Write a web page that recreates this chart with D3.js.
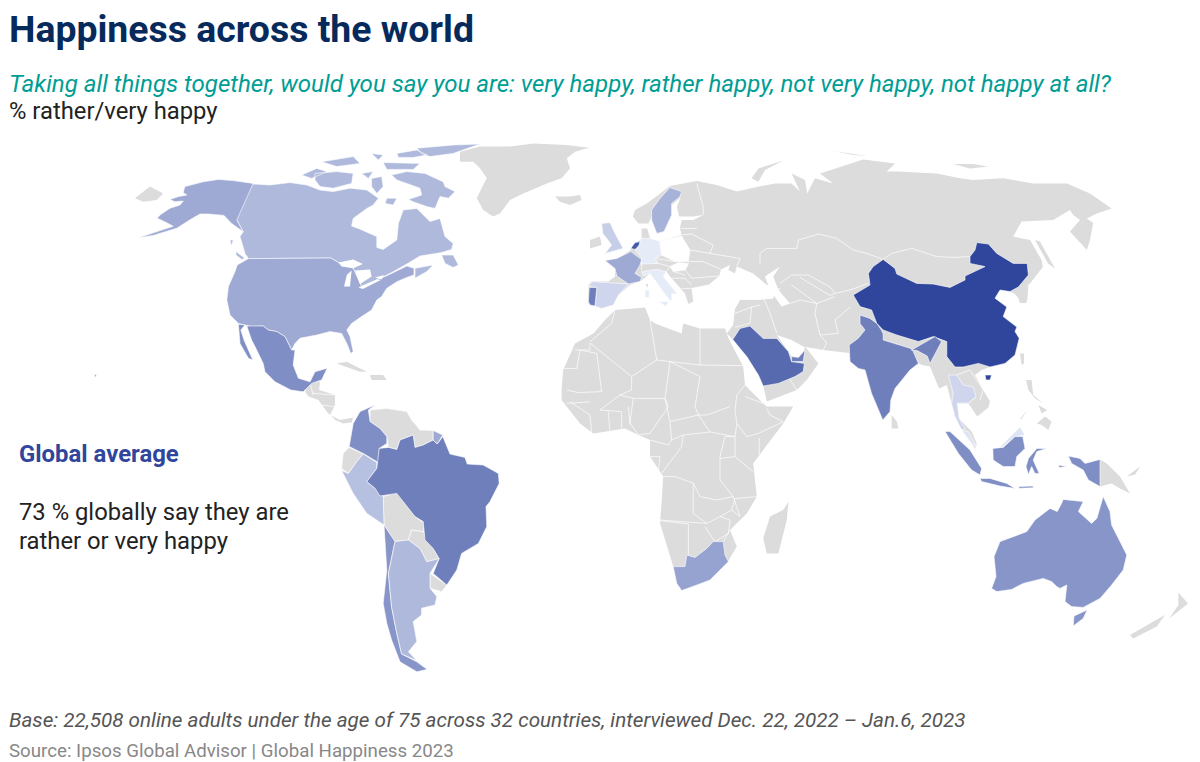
<!DOCTYPE html>
<html>
<head>
<meta charset="utf-8">
<script src="https://cdn.jsdelivr.net/npm/d3@7"></script>
<style>
 html,body{margin:0;padding:0;background:#fff;}
 svg{display:block;font-family:Roboto,sans-serif;}
</style>
</head>
<body>
<div id="container"></div>
<script>
// outlines are [lon,lat] in the flat map grid of the picture, one array per shape

const alaska=[[-86.7,67.9],[-91.7,68.6],[-95.4,68.9],[-99.2,68.3],[-103.8,67.1],[-104.2,65.6],[-103.3,65],[-105.4,64.6],[-107.5,63.9],[-106.3,63.3],[-104.2,63.5],[-105,62.5],[-107.5,61.7],[-110,60],[-110.7,59.2],[-108.8,58.3],[-106.7,57.2],[-110,56.1],[-115.4,54.3],[-111.7,54.9],[-105.8,56.7],[-102.5,58.8],[-100,60.25],[-97.9,60.25],[-94,59.9],[-92.1,57.9],[-89.2,55.8],[-90.8,58.75]];
const hawaii=[[-126.5,20.2],[-125.8,20],[-126.2,19.4]];
const usaMain=[[-87.9,49.1],[-67.3,49.25],[-65,47.9],[-61.7,46.7],[-59.6,42.1],[-55.8,43.75],[-52.9,45],[-48.3,47.25],[-46.5,46.7],[-46.5,45],[-48.3,44.4],[-50.8,43.3],[-53.3,41.7],[-54.6,39.6],[-55.8,38.75],[-57.1,36.25],[-59.6,34.6],[-62.1,32.9],[-63.3,31.25],[-62.5,29.6],[-61.7,25.9],[-62.3,25.4],[-63.3,27.9],[-64.6,30.4],[-67.5,30.85],[-70.8,30],[-75,29.2],[-76.25,27.9],[-77.1,26.25],[-78.75,29.6],[-80.8,30.85],[-82.9,31.25],[-84.2,32.25],[-87.1,32.1],[-90.4,32.9],[-92.5,35],[-93.3,38.75],[-92.9,42.1],[-91.25,45.85],[-90.7,47.5]];
const canadaMain=[[-86.7,67.75],[-82.5,67.5],[-77.5,68.1],[-73.3,67.5],[-70,66.25],[-66.7,65.85],[-62.5,66.7],[-58.3,66.25],[-55.4,64.2],[-56.7,62.5],[-58.3,61.65],[-61.7,59.15],[-62.1,57.25],[-60.4,56.65],[-55.8,54.6],[-55.8,51.9],[-54.2,51.4],[-50.8,53.75],[-50.4,57.9],[-49.2,61.25],[-45.8,61.65],[-43.75,59.6],[-42.5,58.35],[-40,59.15],[-38.75,54.6],[-36.7,52.9],[-37.1,51.4],[-39.6,50.6],[-45,49.75],[-48.3,47.75],[-52.5,45.4],[-55.8,43.75],[-59.6,42.1],[-61.7,46.7],[-65,47.9],[-67.3,49.25],[-87.9,49.1],[-88.75,50.4],[-90,54.6],[-89.2,55.8],[-90.8,58.75],[-94,59.9]];
const canadaIslands=[
 [[-92.5,53.75],[-91.7,53.75],[-92.1,52.25]],
 [[-91,50.85],[-88.75,49.2],[-89.6,48.9],[-91,50]],
 [[-46.25,46.7],[-41.7,47.5],[-43.3,45.85],[-46.25,44.2]],
 [[-39.6,50],[-36.7,50],[-35.4,47.5],[-36.7,46.9],[-38.75,47.9]],
 [[-52.1,70],[-48.3,70.85],[-43.75,70.4],[-39.2,68.3],[-38.75,67.1],[-36.25,65.85],[-37.9,64.2],[-40,64.6],[-41.25,61.65],[-43.3,62.1],[-46.7,63.3],[-47.9,63.9],[-44.6,65],[-45,66.7],[-48.3,67.9],[-50.8,68.75]],
 [[-71.25,70.4],[-65.8,70.85],[-61.7,70.4],[-62.1,67.9],[-66.7,66.7],[-70,67.1],[-71.25,68.75]],
 [[-74.6,70],[-70.8,71.65],[-68.3,70.85],[-72.1,69.15]],
 [[-59.6,70.4],[-56.7,70.85],[-57.9,69.15]],
 [[-53.3,64.2],[-50.8,64.2],[-51.7,62.5],[-53.75,62.9]],
 [[-57.1,69.15],[-54.6,69.6],[-54.2,67.1],[-55.8,65.4],[-57.1,67.1]],
 [[-50.8,75.4],[-45.8,76.25],[-43.3,75],[-46.7,74.4],[-50.4,74.4]],
 [[-45.8,76.7],[-36.7,77.5],[-30,77.75],[-36.7,75.4],[-42.5,74.6],[-44.6,75.4]],
 [[-69.6,73.3],[-61.7,74.6],[-60,72.9],[-65.8,72.1]],
 [[-57.1,75.4],[-54.2,75],[-55.4,73.75]],
 [[-54.2,73.1],[-45,72.9],[-46.7,71.4],[-53.3,71.4]]
];
const mexicoMain=[[-88.3,32.25],[-84.2,32.25],[-82.9,31.25],[-80.8,30.85],[-78.75,29.6],[-77.1,26.25],[-76.25,26.25],[-76.7,22.5],[-75.4,19.2],[-72.5,18.3],[-71.25,20.8],[-68.2,21.7],[-69.6,18.75],[-72.1,17.9],[-74.2,15.8],[-77.3,16.25],[-81.25,18.3],[-83.75,20.8],[-84.2,22.9],[-86.25,27.1],[-87.1,28.75]];
const baja=[[-90.4,32.7],[-88.75,32.5],[-89.8,31.25],[-89,28.75],[-86.8,23.75],[-87.9,24.2],[-90,27.9]];
const colombia=[[-56.25,12.5],[-57.9,11.25],[-57.5,8.35],[-55,6.65],[-53.3,4.6],[-53.3,2.9],[-55.2,1.65],[-55.2,-2.1],[-55.8,-1.65],[-59.2,0.4],[-62.7,2.1],[-61.7,7.9],[-60,10.85]];
const frenchGuiana=[[-41.7,6.1],[-39.3,5],[-40.7,2.75],[-41.7,3.75]];
const brazil=[[-55.2,1.65],[-52.9,1.9],[-50.8,1.4],[-50,3.75],[-46.7,5],[-46.25,1.9],[-44.2,2.5],[-41.7,3.75],[-40.7,2.75],[-39.3,4.6],[-37.5,0.25],[-33.75,-0.6],[-33.2,-2.25],[-29.2,-2.5],[-25.4,-4.6],[-25.2,-7.1],[-27.5,-11.65],[-28.5,-12.9],[-28.3,-17.9],[-30.4,-22.1],[-34.6,-24.6],[-35.8,-28.75],[-38.3,-32.5],[-41.7,-29.6],[-40.2,-25.9],[-41.7,-23.4],[-43.75,-21.25],[-44.2,-16.65],[-46.25,-15.4],[-50.8,-9.6],[-55,-10.25],[-56.25,-8.3],[-58.3,-6.65],[-55.8,-3.35]];
const peru=[[-64.6,-3.9],[-62.9,-4.6],[-60.8,-1.65],[-59.2,0.25],[-55.8,-1.9],[-55.8,-3.35],[-58.3,-6.65],[-56.25,-8.3],[-54.2,-10.4],[-54,-17.5],[-58.3,-14.6],[-61.7,-9.6]];
const argentina=[[-51.25,-21.65],[-47.9,-21.25],[-45,-23.4],[-43.3,-26.7],[-40.2,-25.9],[-41.7,-28.3],[-42.5,-29.6],[-42.5,-33.3],[-40.8,-35.4],[-41.25,-37.5],[-44.6,-38.3],[-44.6,-40],[-46.7,-41.65],[-45.8,-46.65],[-47.9,-49.2],[-45.8,-51.4],[-49.6,-49.75],[-50.8,-44.6],[-52.1,-38],[-52.9,-29.6]];
const chile=[[-54,-17.5],[-51.25,-21.65],[-52.9,-29.6],[-52.1,-38],[-50.8,-44.6],[-49.6,-49.75],[-45.8,-51.7],[-43.2,-53.6],[-45.8,-54.2],[-50,-51.7],[-52.1,-46.25],[-53.3,-42.1],[-54.2,-37.1],[-53.3,-28.75]];
const sweden=[[12.9,61.25],[15,64.15],[17.5,66.9],[20.4,65.85],[20,64.6],[17.9,62.9],[17.9,60],[16,55.85],[14.2,55.4],[12.9,58.75]];
const uk=[[0.4,57.9],[2.5,58.1],[3.75,55.4],[5.8,51.65],[1.25,50.4],[2.9,52.5],[1.7,54.15],[0.7,55.4]];
const germany=[[10.4,54.15],[12.5,54.15],[15,53.35],[15.4,50],[13.75,49.15],[14.6,47.9],[10.4,47.75],[10.4,49.4],[8.75,51.25],[9.8,52.5]];
const netherlands=[[7.7,51.65],[8.75,53.1],[10,53.35],[9.8,51.9],[8.75,51.4]];
const france=[[1.25,48.6],[4.2,49.15],[7.7,50.85],[10.4,48.9],[10,47.5],[8.75,45.4],[10.4,44.4],[10,43.35],[7.1,42.75],[4.2,44.75],[3.75,46.65]];
const corsica=[[11.5,42.75],[12,42.75],[11.8,41.65]];
const spain=[[-2.1,43.35],[7.1,42.75],[4.6,40],[3.3,37.5],[0.4,36.65],[-1.25,37.25],[-0.8,41.9],[-2.7,42.1]];
const portugal=[[-2.7,41.9],[-0.8,41.9],[-1.25,37.25],[-2.5,37.5],[-2.9,38.35]];
const italy=[[10.4,45.85],[14.2,46.4],[16.5,45.85],[15.8,44.6],[19.3,40.25],[17.9,40.4],[17.9,38.35],[16.7,39.6],[13.75,43.75],[12.5,45.4],[10.8,44.75]];
const sicily=[[14.6,38.35],[17.1,38.35],[16.5,37.1]];
const sardinia=[[11.25,41.25],[12.3,41.25],[12.3,39.4],[11.25,39.4]];
const poland=[[16.25,53.75],[20.4,54.75],[22.5,51.25],[22.1,48.35],[18.75,48.35],[15.4,50],[15,53.35]];
const hungary=[[17.5,47.1],[19.6,48.1],[22.1,47.9],[21.25,46.25],[18.3,45.85]];
const turkey=[[26.7,40.4],[30,41.5],[36.7,42],[41.7,42.5],[43.3,41.25],[43.3,39.2],[40,38.9],[35,38.9],[33.75,36.65],[30,36.9],[26.7,38]];
const saudi=[[33.2,28.9],[35,31.65],[37.5,32.25],[40.8,29.15],[44.2,29.15],[47.1,25.85],[47.9,23.35],[51.1,22.9],[50.8,20.85],[48.75,19.6],[44.6,17.9],[40.8,17.25],[39.6,20],[36.7,24.6],[35,26.65]];
const uae=[[47.9,24.6],[49.6,24.4],[51.25,26.25],[50.8,23.35],[47.9,23.35]];
const southAfrica=[[18.3,-27.9],[21.25,-27.9],[21.7,-25],[23.75,-25.6],[26.7,-23.35],[28.3,-21.65],[30.8,-21.65],[31.25,-25],[32.1,-26.65],[27.5,-31.25],[24.2,-32.5],[20.4,-33.9],[19.2,-32.1]];
const china=[[70.8,48.9],[73.75,46.65],[74.2,45.25],[79.2,42.9],[83.3,42.75],[87.5,41.9],[91.25,43.75],[91.25,44.75],[96.25,47.1],[92.5,47.9],[92.5,49.6],[93.75,51.25],[94.2,53.1],[97.1,52.75],[99.2,50.4],[103.3,47.9],[106.8,47.9],[107.1,45],[104.6,42],[102.5,40.85],[100,41.25],[98.75,39.2],[101.7,37],[100.8,34.6],[104.2,32],[103.75,30.85],[104.8,29.2],[103.75,25],[101.25,22.9],[97.5,22],[94.6,22.9],[90.8,22],[88.75,22],[86.7,24.6],[86.7,28.35],[83.3,29.6],[79.6,28.35],[74.2,30],[70.8,31.25],[69.2,32.9],[67.9,36.25],[65,37.1],[63.3,40],[67.5,42.5],[67.1,45.4],[68.3,47.1]];
const hainan=[[96.25,20],[97.9,20],[97.5,18.75],[96.5,18.75]];
const india=[[65,35],[67.5,34.15],[69.2,32.9],[70.3,31.3],[70.8,30.25],[70.8,28.75],[77.5,26.7],[78.2,26.1],[79.6,22.9],[77.5,21.25],[73.75,16.65],[72.7,13.75],[72.5,10.85],[70.7,8.75],[67.9,15.4],[66.25,21.25],[64.6,21.65],[62.5,23.35],[62.3,27.5],[64.6,29.2],[66.25,31.25],[65,32.9]];
const indiaEast=[[77.9,26.25],[83.75,29.6],[85.4,28.35],[82.5,22.9],[81.8,24.75],[79.3,26.1]];
const thailand=[[87.1,20],[89.2,20],[90.8,17.5],[93.3,17],[94,14.6],[92.1,13],[89.3,13],[89.8,9.15],[91.25,6.65],[90.4,6.25],[88.75,9.6],[87.9,12.9],[88.3,15.4]];
const malayPeninsula=[[90.4,6.25],[92.1,5.85],[94.2,2],[92.9,2.9]];
const sarawak=[[99.6,1.65],[105,7],[106.25,5],[103.75,4.6],[100.8,2.1]];
const sumatra=[[86.25,5.85],[87.5,5.85],[92.5,1.25],[95.4,-3.35],[95,-5],[92.9,-3.75],[89.6,0.4]];
const kalimantan=[[98.2,1.65],[100.8,1.9],[103.75,4.6],[105.7,4.6],[106.25,1.65],[104.2,-0.4],[103.75,-2.9],[100.8,-2.9],[98.3,-1.25]];
const java=[[95,-5.85],[97.5,-5.85],[101.7,-7.1],[103.75,-8.35],[100,-7.75],[95.4,-6.65]];
const sulawesi=[[107.1,-0.85],[109.2,1.65],[111.7,1.65],[109.2,0.85],[108.3,-1.25],[109.8,-4.6],[108.75,-4.6],[107.9,-2.9],[107.1,-4.9],[106.5,-2.9]];
const papua=[[117.1,-0.25],[120,-0.85],[121.25,-2.1],[125,-1.1],[125,-7.9],[122.1,-6.25],[120.8,-3.75],[117.9,-2.1]];
const seram=[[114.6,-2.5],[116.7,-2.9],[114.8,-3.1]];
const flores=[[104.6,-7.9],[108.3,-7.75],[108.3,-8.2],[104.8,-8.3]];
const australiaMain=[[115.8,-11.1],[120.8,-11.65],[119.6,-14.15],[122.9,-17.1],[124.2,-15.85],[125.8,-10.4],[127.5,-14.15],[127.9,-17.5],[130,-21.65],[131.7,-25],[130.8,-28.75],[127.9,-32.5],[125,-35.85],[120.8,-38.1],[117.9,-37.9],[116.25,-36.65],[116.7,-32.5],[115,-33.35],[114.2,-32.9],[112.9,-31.65],[110.8,-30.85],[105.8,-32.1],[102.9,-33.6],[99.2,-34.15],[97.9,-33.35],[99,-30.4],[98.5,-25.4],[100,-21.65],[106.7,-19.15],[108.75,-16.25],[112.5,-13.35],[114.3,-14.15],[115.4,-12.1]];
const tasmania=[[118.5,-40.25],[121.8,-38.75],[120.8,-40.85],[118.3,-42.75]];
const japan=[[111,45],[113.5,43],[112,40],[110.5,36],[105,32.5],[103.5,33.5],[107,36.5],[110,39]];
const southKorea=[[104,37.9],[106.5,37.9],[106.8,34.5],[104.5,33.9]];

const countryNames=['Canada','United States','Mexico','Colombia','Peru','Brazil','Chile','Argentina','France','United Kingdom','Spain','Portugal','Netherlands','Germany','Italy','Sweden','Poland','Hungary','Turkey','Saudi Arabia','United Arab Emirates','South Africa','China','India','Thailand','Malaysia','Indonesia','Australia','Japan','South Korea'];
const happyValues=[75,77,81,81,74,83,80,75,77,72,71,83,88,68,68,76,60,50,53,86,83,78,91,83,71,69,81,80,57,57];
const countryShapes=[
 [canadaMain,...canadaIslands],[alaska,usaMain,hawaii],[mexicoMain,baja],[colombia],[peru],[brazil],[chile],[argentina],
 [france,corsica,frenchGuiana],[uk],[spain],[portugal],[netherlands],[germany],[italy,sicily,sardinia],[sweden],
 [poland],[hungary],[turkey],[saudi],[uae],[southAfrica],[china,hainan],[india,indiaEast],[thailand],
 [malayPeninsula,sarawak],[sumatra,kalimantan,java,sulawesi,papua,seram,flores],[australiaMain,tasmania],[japan],[southKorea]
];

// everything without a survey value, grey
const eurasia=[[31.7,66.7],[29.2,67.5],[24.2,68.5],[20.8,67.9],[17.5,67.25],[14.2,64.75],[11.7,62.9],[8.75,61.25],[8.2,59.6],[9.6,57.9],[12.1,57.9],[13.3,60.4],[13.75,56.65],[14.6,55.4],[16,55.85],[17.9,60],[17.9,62.5],[20.2,64.4],[19.2,62.1],[19.8,59.6],[23.3,59.6],[25.8,60],[23.3,58.75],[20.4,58.75],[20,56.65],[20.4,55],[16.25,53.75],[15,53.35],[12.5,54.15],[11.8,56.65],[10.4,56.65],[10.4,54.15],[9.6,53.35],[7.7,51.25],[5.8,50],[4.2,48.9],[1.25,48.6],[3.75,46.65],[3.75,44.6],[2.1,43.35],[-2.1,43.35],[-2.9,42.5],[-2.9,37.9],[-1.25,37.25],[0.4,36.65],[3.3,37.5],[4.6,40],[7.5,42.5],[10.4,43.6],[12.5,45.4],[13.75,43.75],[16.7,39.6],[17.9,38.35],[17.9,40.4],[19.3,40.25],[15.8,44.6],[16.5,45.85],[17.9,44.2],[21.25,40.4],[22.1,37.75],[23.3,38.35],[22.9,41.65],[27.1,42.5],[29.8,44.75],[30.25,46.4],[32.5,47.5],[32.1,46.25],[33.75,45.4],[34.2,47.1],[38.3,45.4],[41.7,42.5],[43.3,41.25],[43.3,39.2],[40,38.9],[35,38.9],[33.75,36.65],[33.3,32.5],[31.7,30.4],[33.2,28.9],[36.7,24.6],[39.6,20],[40.8,17.25],[41.7,13.35],[49.2,16.25],[51.7,18.75],[54.6,22.9],[51.25,27.1],[50.4,24.2],[47.9,24.6],[47.1,25.85],[44.2,30],[47.9,28.75],[50.8,27.1],[55.8,26.25],[62.3,25.5],[62.5,23.35],[64.6,21.65],[66.25,21.25],[67.9,15.4],[70.7,8.75],[72.5,10.85],[72.7,13.75],[73.75,16.65],[77.5,21.25],[79.2,23.35],[80.4,22.5],[82.5,22.1],[84.2,18],[84.8,16.65],[86.7,17.5],[87.9,12.9],[88.75,9.6],[90.8,5.85],[93.75,1.65],[94.2,2.9],[92.9,5.85],[89.8,9.15],[89.3,12.9],[92.1,12.9],[94.3,9.6],[97.1,11.9],[97.5,13.35],[95.8,16.25],[93.75,20],[95.4,21.25],[97.5,22],[101.25,22.9],[103.75,25],[104.8,29.2],[103.75,30.85],[104.2,32],[100.8,34.6],[101.7,37],[98.75,39.2],[100,41.25],[102.5,40.85],[103.75,40.25],[104.6,39.2],[105,37.9],[106.5,37.9],[106.8,38.6],[107.1,42.5],[106.25,42.1],[107.5,42.9],[110.7,47],[110.4,48.75],[107.5,53.75],[103.3,54.6],[105.4,58.35],[113.3,58.75],[117.5,61.25],[118.3,60],[120,58.75],[117.5,55.85],[121.7,51.25],[122.5,53.75],[123.3,58],[121.7,59.15],[124.2,60.4],[127.9,61.65],[122.5,65.4],[116.7,67.9],[108.3,67.9],[100.8,69.2],[93.3,68.75],[90,69.2],[84.2,70.4],[74.2,70.85],[71.7,70.85],[73.75,72.9],[65.8,73.9],[55,70.4],[58.3,67.9],[53.75,69.2],[51.8,65.4],[51.25,68.75],[47.9,70.4],[50,65.85],[47.9,67.9],[43.75,67.9],[39.2,67],[34.2,65.85]];
const africa=[[3.75,36.25],[11.25,36.9],[12.5,33.75],[13.75,32.9],[20.4,30.4],[20.8,32.9],[25,31.65],[31.25,31.65],[31.7,30.4],[32.1,29.2],[35.8,22.1],[36.25,17.5],[40.8,12.9],[41.7,12.1],[48.3,12.1],[45.8,7.9],[40.8,1.25],[38.3,-2.1],[39.2,-10.4],[36.7,-14.6],[32.5,-18.75],[34.2,-22.9],[31.7,-27.1],[27.5,-31.25],[20.8,-33.75],[19.2,-32.1],[18.3,-27.9],[15,-17],[15.4,-12],[15.8,-5.4],[12.5,-0.4],[12.5,3.75],[9.6,5],[6.25,6.65],[-1.65,5.4],[-5,7.9],[-9.6,13.75],[-9.6,16.65],[-9.2,21.25],[-6.25,27.9],[-1.65,30.4],[1.25,33.75]];
const madagascar=[[47.1,-11.7],[46.7,-16.25],[44.6,-24.6],[41.7,-24.6],[40.8,-20.85],[42.5,-15.4],[45.8,-13.75]];
const centralAmerica=[[-73.75,15.9],[-72.5,18],[-70,18.3],[-70.2,16.25],[-66.25,15],[-66.25,12.5],[-67.5,10],[-65,8.75],[-61.7,9.4],[-62.1,8.1],[-64.2,7.9],[-66.25,8.75],[-68.3,10.8],[-70.4,13.75],[-72.9,14.6]];
const venezuelaGuianas=[[-57.5,11.25],[-53.3,11.65],[-48.3,10.85],[-47.1,8.75],[-45,6.25],[-41.7,6.1],[-41.7,3.75],[-44.2,2.5],[-46.25,1.9],[-46.7,5],[-50,3.75],[-50.8,1.4],[-52.9,1.9],[-53.3,4.6],[-55,6.65],[-57.5,8.35]];
const ecuador=[[-62.7,1.9],[-59.2,0.25],[-60.8,-1.65],[-62.9,-4.6],[-64.6,-3.35],[-64.2,0.4]];
const bolivia=[[-54.2,-10.4],[-50.8,-9.4],[-46.25,-15.4],[-44.2,-16.9],[-44,-19.2],[-47.1,-18.75],[-47.9,-21.25],[-51.25,-21.65],[-54,-17.5]];
const paraguay=[[-47.1,-18.75],[-44,-19.2],[-43.5,-21.25],[-41.7,-23.4],[-40.2,-25.9],[-43.3,-26.7],[-45,-23.4],[-47.9,-21.25]];
const uruguay=[[-42.5,-29.6],[-38.3,-32.5],[-39.6,-34.2],[-42.5,-33.3]];
const greenland=[[-35,75.8],[-30,77.1],[-22.5,77.1],[-16.7,77.9],[-8.3,77.5],[-2.7,76.8],[-6.25,75.8],[-8.3,74.2],[-7.5,71.7],[-9.6,69.2],[-13.3,67.9],[-19.2,65.4],[-22.5,63.75],[-25,60.4],[-26.7,59.6],[-29.2,61.25],[-30.8,64.2],[-29.2,67.5],[-28.3,69.2],[-30,71.7],[-31.7,73.3],[-35,73.3]];
const greyIslands=[
 [[-11.25,64.6],[-7.5,64.6],[-5,65],[-4.6,63.75],[-7.5,62.5],[-10,63.3]],
 [[-2.5,53.75],[0,54.6],[0.4,52.5],[-2.5,51.65]],
 [[-116.25,64.2],[-112.5,67.1],[-109.2,65.4],[-110.8,63.75],[-114.2,63.3]],
 [[-65.8,22.9],[-63.3,23.3],[-58.3,20.8],[-60,20.8],[-63.75,22.1]],
 [[-57.5,20],[-54.2,20],[-53.3,18.75],[-57.1,18.75]],
 [[37.9,69.2],[39.6,71.65],[45.8,73.6],[41.25,71.25],[39.6,68.3]],
 [[88.3,72.75],[93.3,72.75],[97,72.1],[92.5,71.65]],
 [[58.3,76],[66.7,74.75],[63.3,75]],
 [[108.75,53.75],[110,53.35],[113.75,46.65],[112,47.9]],
 [[72.9,10],[74.2,8.35],[74.6,6.65],[72.9,6.65]],
 [[105,25.4],[106,25.4],[106,22.9],[105.4,22.5]],
 [[106.5,18.75],[107.9,18.75],[108.3,15],[110.8,12.9],[108.75,14.2],[107.1,16.25]],
 [[109.2,7.9],[111.25,9.6],[112.9,8.35],[112.1,6.25],[110.4,7.5]],
 [[109.6,12.5],[111.8,11.25],[110.4,10.4]],
 [[105,9],[106.7,11.1],[105.4,9]],
 [[125,-1.1],[126.7,-2.1],[130,-5.4],[132.5,-9.6],[130,-8.35],[127.9,-7.1],[125,-7.9]],
 [[131.7,-5.4],[135,-2.9],[133.8,-4.9]],
 [[144.6,-34.4],[147,-37.1],[145,-38.75],[142.3,-40.85],[144.6,-37.5]],
 [[141.25,-40],[139.2,-42.9],[133.3,-45.85],[132.5,-45],[137.5,-42.1]]
];
const landShapes=[eurasia,africa,madagascar,centralAmerica,venezuelaGuianas,ecuador,bolivia,paraguay,uruguay,greenland,...greyIslands];

const lakes=[
 [[-65.4,48.1],[-61.7,48.9],[-59.3,47.75],[-61.7,46.7],[-64.6,47.1]],
 [[-62.1,46.1],[-63.3,45],[-64,42.1],[-62.5,42.1]],
 [[-61.25,46.1],[-57.5,46.4],[-57.1,44.6],[-60,42.75],[-60.7,44.6]],
 [[-60.4,41.9],[-55.8,43.9],[-54.8,43.75],[-59.3,41.5]],
 [[-56.25,44.4],[-54,45],[-54.6,43.9]],
 [[41.25,44.6],[45,47.1],[43.3,44.6],[44.6,41.25],[47.5,37.9],[45.4,37.1],[42.5,41.25]]
];

const borderLines=[
 // Africa
 [[3.75,36.25],[2.9,32.9],[-2.5,28.3]],
 [[-6.25,26.25],[-2.5,26.25],[-2.5,28]],
 [[-2.5,28],[7.9,19.6],[14.2,23.75],[12.5,33.75]],
 [[-9.2,21.65],[-5.8,21.65],[-5,26.25],[-0.8,25.4],[0.4,15.85],[-5.4,15.6],[-8.3,16.25]],
 [[7.9,19.6],[7.9,16.25],[5,15],[0,11.25]],
 [[14.2,23.75],[17.5,23.35],[16.25,14.15],[8.3,14.15],[5,15]],
 [[17.5,23.35],[25,22.5],[25,31.65]],
 [[17.5,23.35],[25,19.6],[23.75,12.1],[24.6,10],[17.5,8.35],[16.25,14.15]],
 [[25,22.5],[35.8,22.35]],
 [[24.6,10],[26.7,10],[32.5,12.1]],
 [[36.25,17.5],[34.2,15],[33.75,11.25],[34.2,7.9]],
 [[36.25,14.6],[40.8,12.9]],
 [[41.7,11.65],[42.5,10],[45.8,8.3],[39.6,5.4],[36.7,4.6],[34.2,7.9],[33.75,4.6],[27.5,5.75],[24.6,10]],
 [[17.5,8.35],[17.9,3.75],[20.8,5],[27.5,5.75]],
 [[8.3,14.15],[7.5,8],[9.6,5],[12.5,5.4],[17.1,12.1],[16.25,14.15]],
 [[12.5,3.75],[17.1,2.5],[17.9,3.75]],
 [[15.4,-4.6],[20.4,2.1],[20.8,5]],
 [[12.5,-0.4],[15,-0.4],[14.6,-3.75]],
 [[33.75,4.6],[31.25,4.6],[30,-0.4],[30,-6.25],[33.3,-10.4],[29.2,-11.25],[25,-10.4],[23.3,-7],[18.75,-5.4],[15.8,-5.4]],
 [[23.3,-7],[23.3,-14.6],[26.7,-17.1],[15,-16.25]],
 [[26.7,-17.1],[30,-15.4],[32.9,-13.75],[33.75,-10.9]],
 [[15,-16.4],[22.1,-17.25],[22.1,-25.4]],
 [[26.25,-17.9],[28.75,-21.7]],
 [[30,-15.4],[32.5,-16.25],[32.1,-19.6],[28.75,-21.7]],
 [[30.8,-21.65],[32.5,-18.75]],
 [[33.3,-10.4],[35,-15.4],[32.9,-13.75]],
 [[30,-0.85],[33.75,-0.4],[38.3,-4.2]],
 [[33.75,-10.9],[39.2,-10.4]],
 [[39.8,0],[39.8,4.3]],
 [[33.75,-0.4],[33.75,4.6]],
 [[2.1,10.85],[2.5,5.4]],
 [[5.4,10.85],[5.4,6.65]],
 [[7.1,12.1],[7.5,7.5]],
 [[-7.5,13.3],[-2.5,10],[-2.1,5.8]],
 [[-8.3,12.9],[-2.5,13.3]],
 [[0,11.25],[5.4,10.85]],
 // Europe
 [[24.2,67.9],[25.8,62],[25.8,60]],
 [[20.2,56.65],[24.2,56.65]],
 [[20.4,55],[22.9,55.25],[28.3,52.5],[27.5,50.4],[22.5,51.25]],
 [[27.5,50.4],[35,49.15],[34.2,47.1]],
 [[22.1,48.35],[25.8,48.35],[30.25,46.4]],
 [[22.1,47.9],[21.25,46.25],[22.9,44.2],[29.8,44.75]],
 [[22.9,41.65],[27.1,42.5]],
 [[18.3,45.85],[21.25,45]],
 [[17.9,44.2],[21.25,44.2],[22.9,42.5]],
 [[20.4,41.65],[22.9,41.65]],
 [[13.75,49.15],[18.75,48.35]],
 [[14.6,47.9],[17.5,47.1],[16.5,45.85]],
 [[10.4,47.75],[10.4,46.25]],
 // Asia
 [[40,47.5],[40,50.4],[41.7,51.65],[49.2,51.65],[49.6,53.75],[54.6,55.25],[59.2,54.15],[63.3,51.25],[66.7,50.4],[70.8,48.9]],
 [[70.8,48.9],[72.9,50.4],[77.9,51.65],[84.2,49.6],[88.3,49.4],[92.5,49.6]],
 [[45,42.9],[47.9,45],[52.1,45],[57.5,42],[58.75,40.4],[62.5,41.25],[67.1,42.9]],
 [[47.9,42.5],[54.2,37.9],[58.75,39.6]],
 [[50,44.4],[57.5,39.9],[58.75,40.4]],
 [[47.5,37.9],[50,38.75],[54.2,37.9]],
 [[54.2,37.9],[53.75,35.4],[55,30],[56.7,28],[55.8,26.25]],
 [[62.5,37],[58.75,33.75],[59.6,30.4],[55,30]],
 [[40.8,39.6],[42.5,35.4],[44.2,30.4]],
 [[33.75,35.4],[37.9,37],[40,37.5]],
 [[37.9,37],[37.5,33],[33.75,31.9]],
 [[41.7,42.5],[45,41.5],[44.6,41.25]],
 [[92.5,21.25],[95.8,16.25],[95,13.75]],
 [[92.1,12.9],[94,14.6]],
 [[89.2,20],[92.5,21.25]],
 [[49.2,16.25],[47,19.6]],
 // Central America
 [[-72.5,18],[-71.7,15]],
 [[-71.7,15.4],[-66.25,15]],
 [[-70,12.5],[-66.25,12.1]],
 [[-67.5,10],[-66.25,8.75]],
 // South America
 [[-47.5,9.15],[-46.7,5]],
 [[-44.6,6.25],[-45,2.1]]
];

const titleText='Happiness across the world';
const questionText='Taking all things together, would you say you are: very happy, rather happy, not very happy, not happy at all?';
const unitText='% rather/very happy';
const calloutTitle='Global average';
const calloutLines=['73 % globally say they are','rather or very happy'];
const baseText='Base: 22,508 online adults under the age of 75 across 32 countries, interviewed Dec. 22, 2022 \u2013 Jan.6, 2023';
const sourceText='Source: Ipsos Global Advisor | Global Happiness 2023';

const width=1200;
const height=762;
const greyLand='#dcdcdc';

const color=d3.scaleLinear()
 .domain([64,67,91])
 .range(['#ffffff','#eef2fc','#2f469c'])
 .clamp(true);

const svg=d3.select('#container').append('svg')
 .attr('width',width)
 .attr('height',height);

const projection=d3.geoEquirectangular()
 .scale(4*180/Math.PI)
 .translate([600,455])
 .precision(0);
const path=d3.geoPath(projection);

// closes the ring, and flips it if d3 would read it as the outside of the shape
function ringOf(points){
 const ring=[...points,points[0]];
 if(d3.geoArea({type:'Polygon',coordinates:[ring]})>2*Math.PI) ring.reverse();
 return ring;
}
const multi=shapes=>({type:'MultiPolygon',coordinates:shapes.map(s=>[ringOf(s)])});

svg.append('g').selectAll('path')
 .data(landShapes)
 .enter().append('path')
 .attr('d',s=>path(multi([s])))
 .attr('fill',greyLand);

svg.append('path')
 .attr('d',path({type:'MultiLineString',coordinates:borderLines}))
 .attr('fill','none')
 .attr('stroke','#fff')
 .attr('stroke-width',0.7);

svg.append('g').selectAll('path')
 .data([ecuador,bolivia,paraguay,uruguay,venezuelaGuianas])
 .enter().append('path')
 .attr('d',s=>path(multi([s])))
 .attr('fill',greyLand)
 .attr('stroke','#fff')
 .attr('stroke-width',0.7);

svg.append('g').selectAll('path')
 .data(countryShapes)
 .enter().append('path')
 .attr('d',s=>path(multi(s)))
 .attr('fill',(s,i)=>color(happyValues[i]))
 .attr('stroke','#fff')
 .attr('stroke-width',0.6)
 .append('title').text((s,i)=>countryNames[i]+': '+happyValues[i]+'%');

svg.append('path')
 .attr('d',path(multi(lakes)))
 .attr('fill','#fff');

function label(txt,x,y,size,fill,weight,style){
 svg.append('text')
  .attr('x',x).attr('y',y)
  .attr('font-size',size)
  .attr('fill',fill)
  .attr('font-weight',weight||400)
  .attr('font-style',style||'normal')
  .text(txt);
}
label(titleText,9,42,37.4,'#062a5c',700);
label(questionText,9,92,24.1,'#009d94',400,'italic');
label(unitText,9,119,23.8,'#222');
label(calloutTitle,19,462,23.9,'#2f469c',700);
label(calloutLines[0],19,520,23.8,'#222');
label(calloutLines[1],19,549,23.8,'#222');
label(baseText,9,727,20.65,'#555',400,'italic');
label(sourceText,9,757,18.7,'#888');
</script>
</body>
</html>
